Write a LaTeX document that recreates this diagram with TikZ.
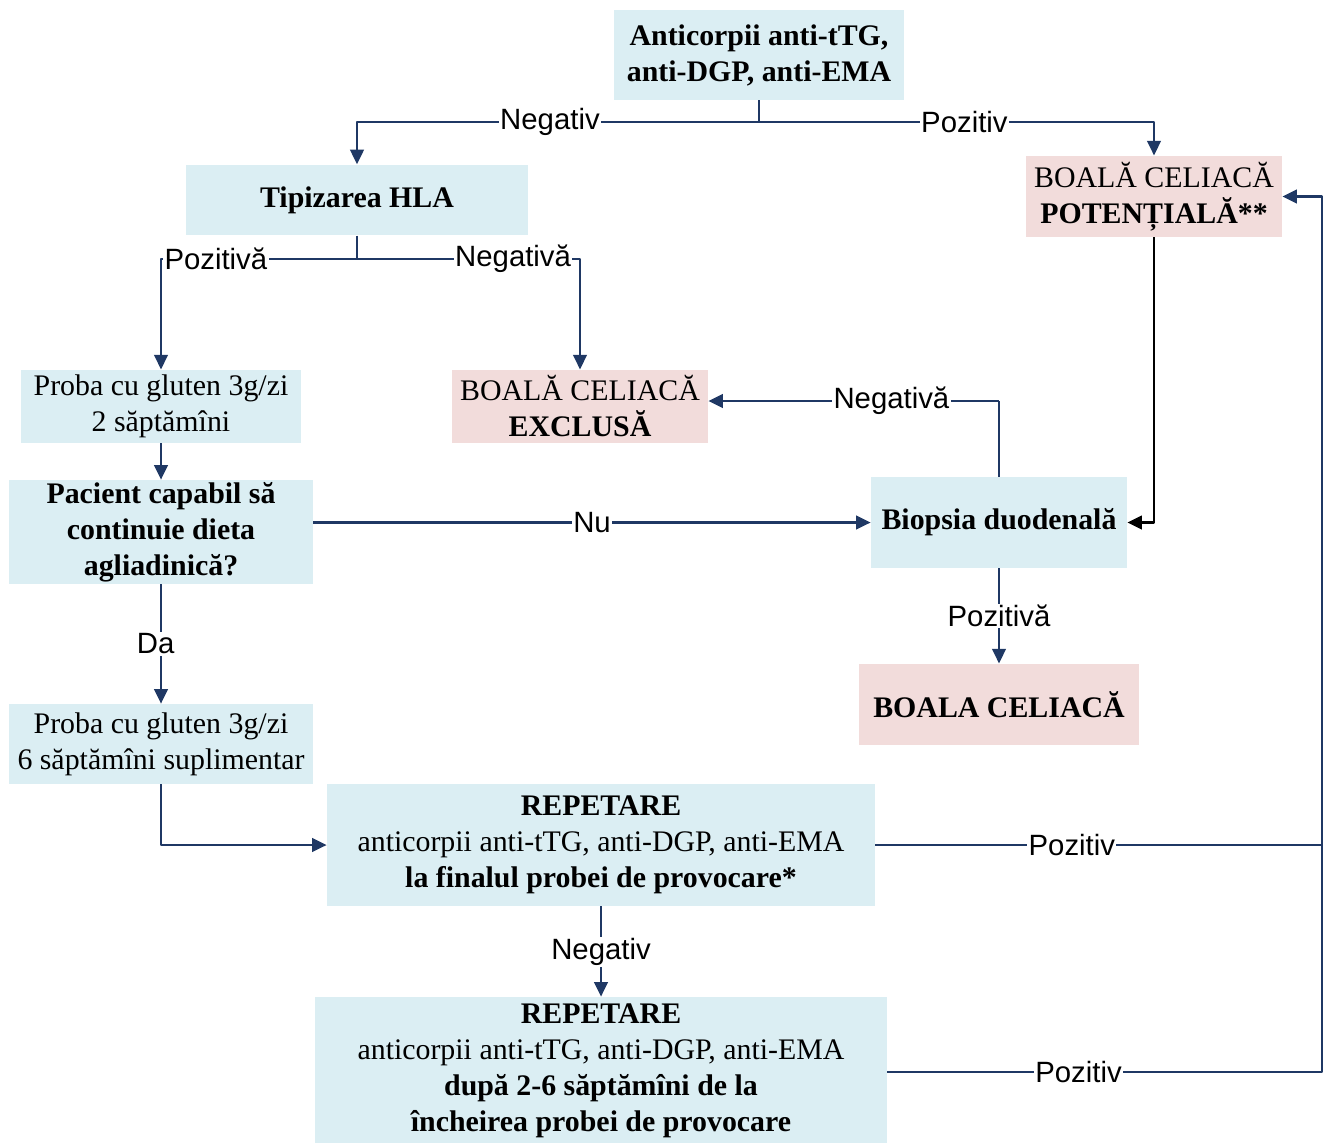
\documentclass[tikz,border=0pt]{standalone}
\usepackage{fontspec}
\setmainfont{Liberation Serif}
\setsansfont{Liberation Sans}
\usetikzlibrary{arrows.meta}
\definecolor{cblue}{HTML}{DBEEF3}
\definecolor{cpink}{HTML}{F2DCDB}
\definecolor{cnavy}{HTML}{1F3864}
\begin{document}
\begin{tikzpicture}[x=0.75pt, y=-0.75pt, font=\fontsize{22.4}{27}\selectfont, line join=round,
  box/.style={fill=cblue, align=center, inner sep=0pt},
  rbox/.style={fill=cpink, align=center, inner sep=0pt},
  lab/.style={fill=white, text=black, inner sep=1pt, font=\sffamily\fontsize{22}{24}\selectfont},
  link/.style={cnavy, line width=2.2pt},
  arr/.style={link, -{Triangle[length=11pt, width=10pt]}}]
\useasboundingbox (0,0) rectangle (1326,1142);
\node[box, minimum width=218pt, minimum height=67.5pt] (top) at (759,55) {\textbf{Anticorpii anti-tTG,}\\\textbf{anti-DGP, anti-EMA}};
\node[box, minimum width=256pt, minimum height=53pt] (hla) at (357,200) {\textbf{Tipizarea HLA}};
\node[rbox, minimum width=192pt, minimum height=61pt] (pot) at (1154,196.5) {BOALĂ CELIACĂ\\\textbf{POTENȚIALĂ**}};
\node[box, minimum width=210pt, minimum height=55pt] (pr1) at (161,406.5) {Proba cu gluten 3g/zi\\2 săptămîni};
\node[rbox, minimum width=192pt, minimum height=55pt] (exc) at (580,406.5) {BOALĂ CELIACĂ\\\textbf{EXCLUSĂ}};
\node[box, minimum width=228pt, minimum height=78pt] (pac) at (161,532) {\textbf{Pacient capabil să}\\\textbf{continuie dieta}\\\textbf{agliadinică?}};
\node[box, minimum width=192pt, minimum height=68pt] (bio) at (999,522.5) {\textbf{Biopsia duodenală}};
\node[rbox, minimum width=210pt, minimum height=61pt] (bc) at (999,704.5) {\textbf{BOALA CELIACĂ}};
\node[box, minimum width=228pt, minimum height=60pt] (pr2) at (161,744) {Proba cu gluten 3g/zi\\6 săptămîni suplimentar};
\node[box, minimum width=411pt, minimum height=91.5pt] (rep1) at (601,845) {\textbf{REPETARE}\\anticorpii anti-tTG, anti-DGP, anti-EMA\\\textbf{la finalul probei de provocare*}};
\node[box, minimum width=429pt, minimum height=111pt] (rep2) at (601,1071) {\textbf{REPETARE}\\anticorpii anti-tTG, anti-DGP, anti-EMA\\\textbf{după 2-6 săptămîni de la}\\\textbf{încheirea probei de provocare}};
\coordinate (t1) at (759,122);
\coordinate (h1) at (357,259);
\coordinate (b1) at (999,401);
\coordinate (r1) at (1322,1072);
\draw[link] (top.south) -- (t1);
\draw[arr] (t1) -| node[lab, pos=0.26] (lneg) {Negativ} (hla.north);
\draw[arr] (t1) -| node[lab, pos=0.26] (lpoz) {Pozitiv} (pot.north);
\draw[link] (hla.south) -- (h1);
\draw[arr] (h1) -| node[lab, pos=0.36] (lpoz2) {Pozitivă} (pr1.north);
\draw[arr] (h1) -| node[lab, pos=0.35] (lneg2) {Negativă} (exc.north);
\draw[-{Triangle[length=11pt, width=10pt]}, line width=2.2pt] (pot.south) |- (bio.east);
\draw[link] (bio.north) -- (b1);
\draw[arr] (b1) -- node[lab, pos=0.37] (lneg3) {Negativă} (exc.east |- b1);
\draw[arr] (pr1.south) -- (pac.north);
\draw[arr] (pac.east |- bio.west) -- node[lab] (lnu) {Nu} (bio.west);
\draw[arr] (pac.south) -- node[lab, xshift=-4pt] (lda) {Da} (pr2.north);
\draw[arr] (bio.south) -- node[lab] (lpoz3) {Pozitivă} (bc.north);
\draw[arr] (pr2.south) |- (rep1.west);
\draw[arr] (rep1.south) -- node[lab] (lneg4) {Negativ} (rep2.north);
\draw[link] (rep1.east) -- node[lab, pos=0.44] (lpoz4) {Pozitiv} (rep1.east -| r1);
\draw[arr] (rep2.east |- r1) -- node[lab, pos=0.44] (lpoz5) {Pozitiv} (r1) |- (pot.east);
\end{tikzpicture}
\end{document}
